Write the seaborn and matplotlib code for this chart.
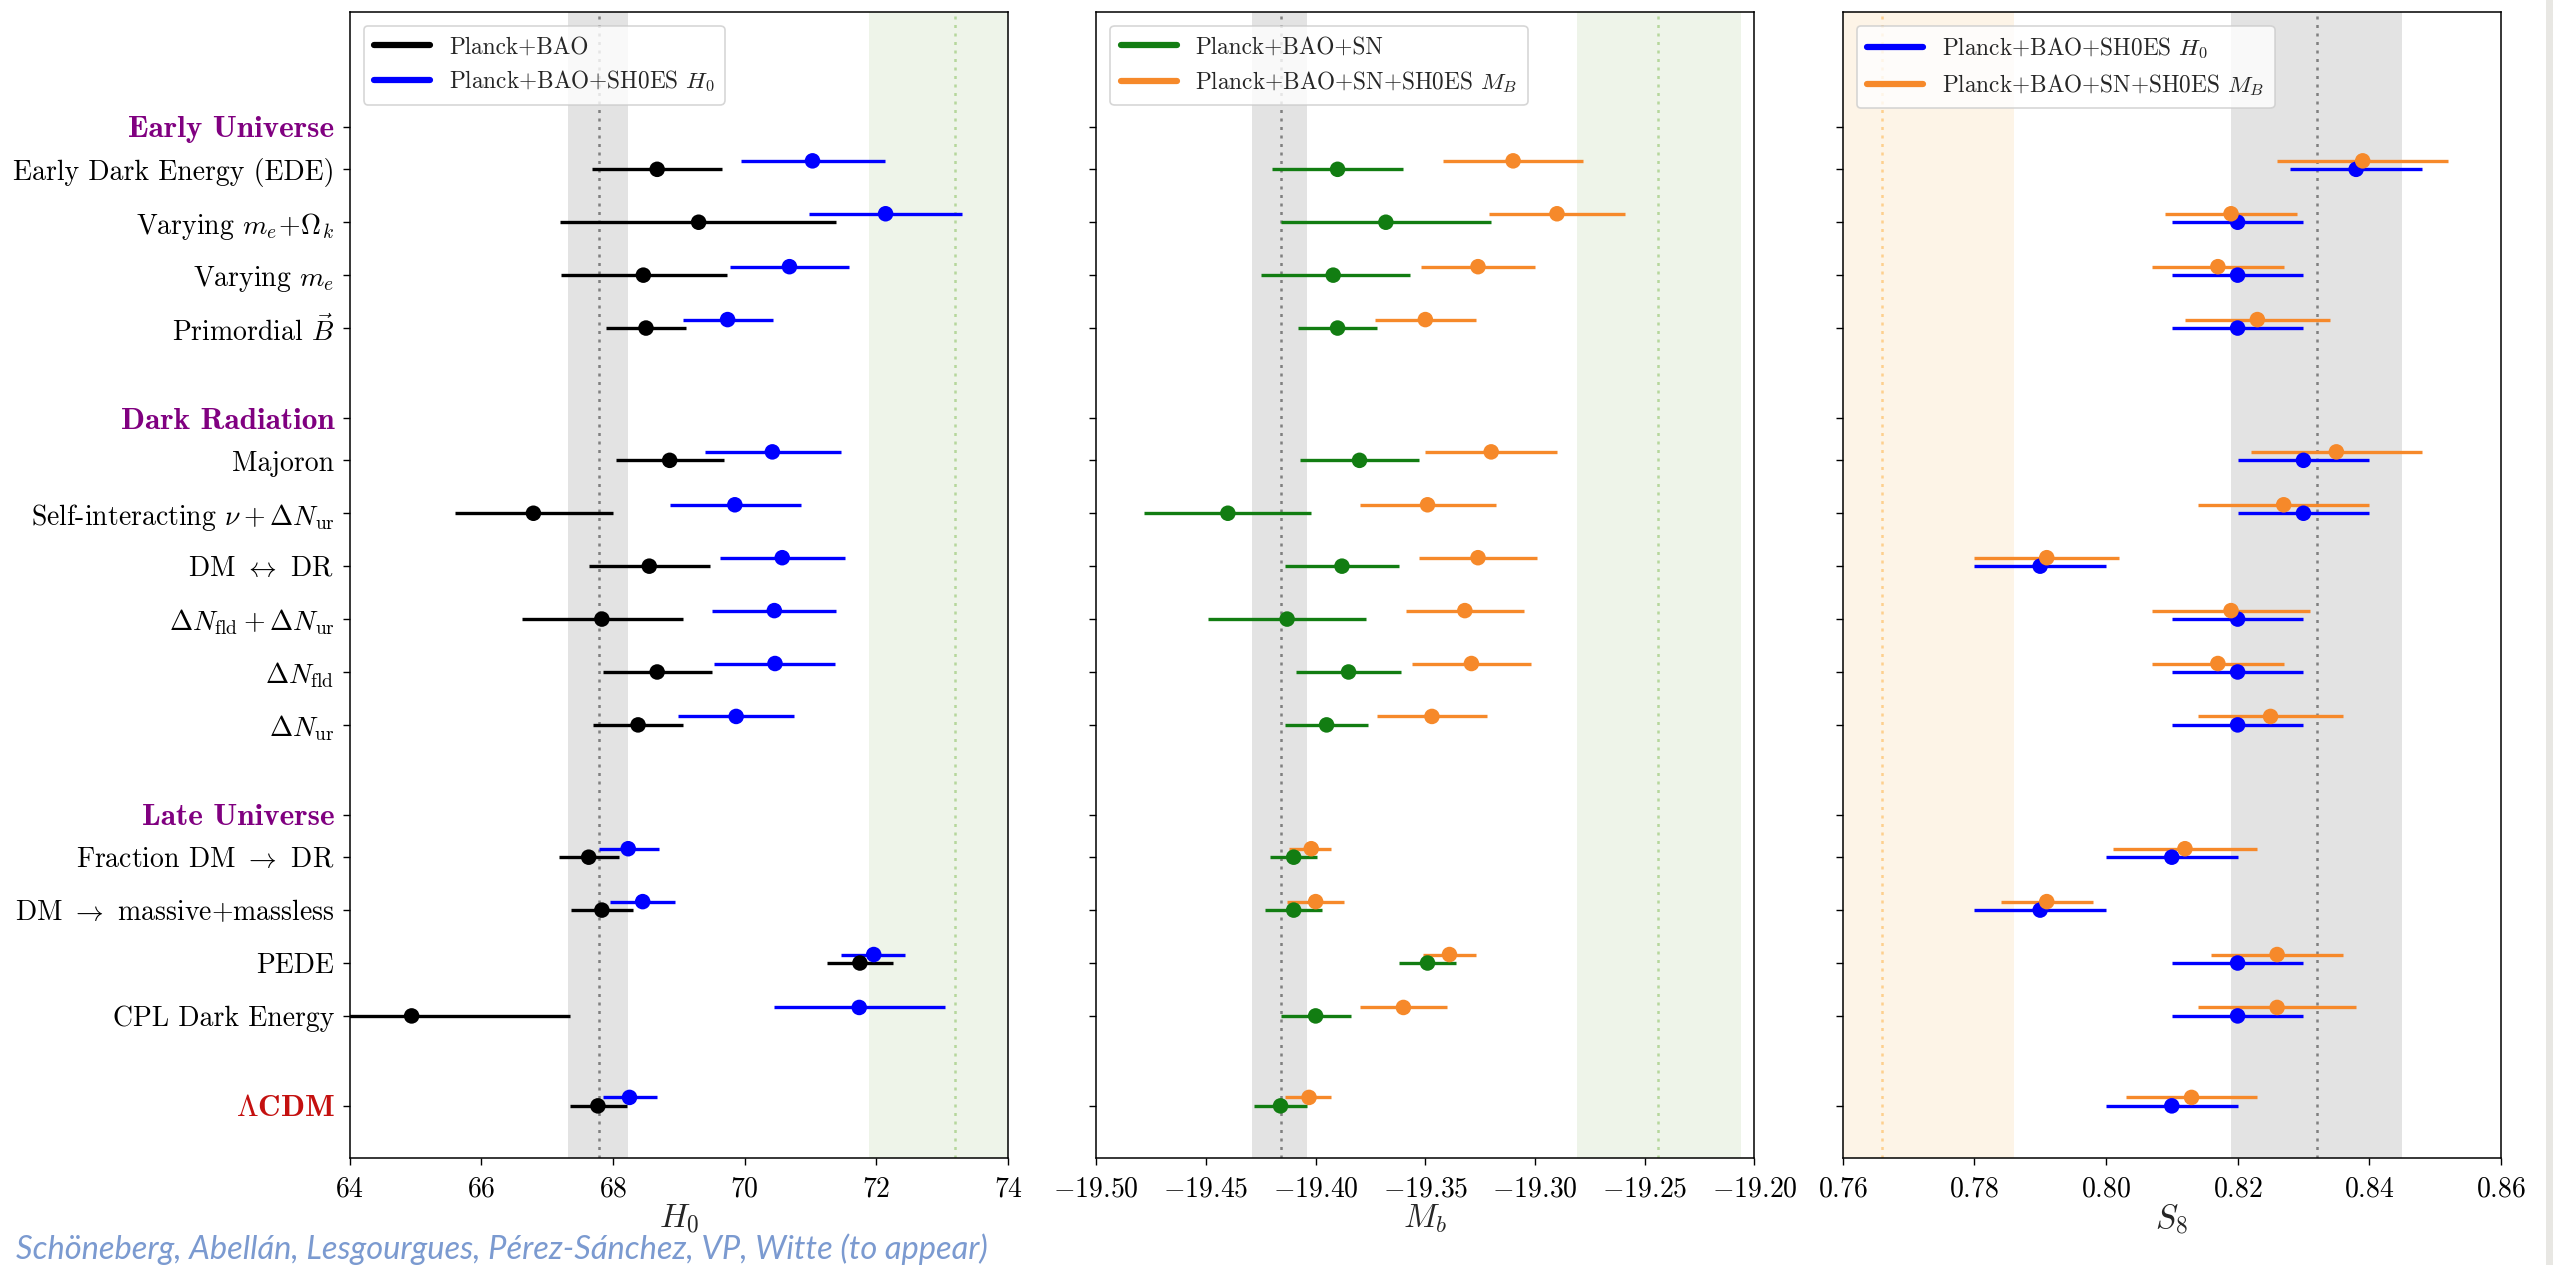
import numpy as np
import pandas as pd
import matplotlib
matplotlib.use("Agg")
import matplotlib.pyplot as plt
from matplotlib.lines import Line2D
from matplotlib.patches import Rectangle
import seaborn as sns

# ---------------------------------------------------------------- data
groups = ["Early Universe", "Dark Radiation", "Late Universe"]
group_sizes = [4, 6, 4]
models = [
    "Early Dark Energy (EDE)",
    r"Varying $m_e\!+\!\Omega_k$",
    r"Varying $m_e$",
    r"Primordial $\vec{B}$",
    "Majoron",
    r"Self-interacting $\nu+\Delta N_{\rm ur}$",
    r"DM $\leftrightarrow$ DR",
    r"$\Delta N_{\rm fld}+\Delta N_{\rm ur}$",
    r"$\Delta N_{\rm fld}$",
    r"$\Delta N_{\rm ur}$",
    r"Fraction DM $\rightarrow$ DR",
    r"DM $\rightarrow$ massive+massless",
    "PEDE",
    "CPL Dark Energy",
]
reference_model = r"$\Lambda$CDM"

# H0 : Planck+BAO
h0_pb = [68.67, 69.30, 68.46, 68.50, 68.86, 66.79, 68.55, 67.83, 68.67, 68.38,
         67.63, 67.83, 71.75, 64.94, 67.77]
h0_pb_lo = [67.68, 67.19, 67.21, 67.90, 68.04, 65.60, 67.64, 66.62, 67.84, 67.70,
            67.18, 67.36, 71.25, 62.54, 67.34]
h0_pb_hi = [69.66, 71.39, 69.73, 69.11, 69.69, 68.00, 69.47, 69.06, 69.50, 69.07,
            68.09, 68.31, 72.26, 67.34, 68.21]
# H0 : Planck+BAO+SH0ES H0
h0_sh = [71.03, 72.14, 70.68, 69.74, 70.42, 69.85, 70.57, 70.45, 70.46, 69.87,
         68.23, 68.45, 71.96, 71.74, 68.25]
h0_sh_lo = [69.94, 70.97, 69.78, 69.06, 69.40, 68.86, 69.63, 69.51, 69.54, 68.99,
            67.78, 67.96, 71.47, 70.45, 67.84]
h0_sh_hi = [72.13, 73.30, 71.59, 70.43, 71.46, 70.85, 71.53, 71.39, 71.37, 70.75,
            68.70, 68.94, 72.44, 73.04, 68.67]

# M_b : Planck+BAO+SN
mb_sn = [-19.390, -19.368, -19.392, -19.390, -19.380, -19.440, -19.388, -19.413,
         -19.385, -19.395, -19.410, -19.410, -19.349, -19.400, -19.416]
mb_sn_lo = [-19.420, -19.416, -19.425, -19.408, -19.407, -19.478, -19.414, -19.449,
            -19.409, -19.414, -19.421, -19.423, -19.362, -19.416, -19.428]
mb_sn_hi = [-19.360, -19.320, -19.357, -19.372, -19.353, -19.402, -19.362, -19.377,
            -19.361, -19.376, -19.3995, -19.397, -19.336, -19.384, -19.404]
# M_b : Planck+BAO+SN+SH0ES M_B
mb_sh = [-19.310, -19.290, -19.326, -19.350, -19.320, -19.349, -19.326, -19.332,
         -19.329, -19.347, -19.402, -19.400, -19.339, -19.360, -19.403]
mb_sh_lo = [-19.342, -19.321, -19.352, -19.373, -19.350, -19.380, -19.353, -19.359,
            -19.356, -19.372, -19.412, -19.413, -19.351, -19.380, -19.414]
mb_sh_hi = [-19.278, -19.259, -19.300, -19.327, -19.290, -19.318, -19.299, -19.305,
            -19.302, -19.322, -19.393, -19.387, -19.327, -19.340, -19.393]

# S8 : Planck+BAO+SH0ES H0
s8_h0 = [0.838, 0.820, 0.820, 0.820, 0.830, 0.830, 0.790, 0.820, 0.820, 0.820,
         0.810, 0.790, 0.820, 0.820, 0.810]
s8_h0_lo = [0.828, 0.810, 0.810, 0.810, 0.820, 0.820, 0.780, 0.810, 0.810, 0.810,
            0.800, 0.780, 0.810, 0.810, 0.800]
s8_h0_hi = [0.848, 0.830, 0.830, 0.830, 0.840, 0.840, 0.800, 0.830, 0.830, 0.830,
            0.820, 0.800, 0.830, 0.830, 0.820]
# S8 : Planck+BAO+SN+SH0ES M_B
s8_mb = [0.839, 0.819, 0.817, 0.823, 0.835, 0.827, 0.791, 0.819, 0.817, 0.825,
         0.812, 0.791, 0.826, 0.826, 0.813]
s8_mb_lo = [0.826, 0.809, 0.807, 0.812, 0.822, 0.814, 0.780, 0.807, 0.807, 0.814,
            0.801, 0.784, 0.816, 0.814, 0.803]
s8_mb_hi = [0.852, 0.829, 0.827, 0.834, 0.848, 0.840, 0.802, 0.831, 0.827, 0.836,
            0.823, 0.798, 0.836, 0.838, 0.823]

# reference measurements: (central, low, high)
h0_planck_band = (67.78, 67.32, 68.22)
h0_shoes_band = (73.20, 71.89, 74.51)
mb_planck_band = (-19.416, -19.429, -19.404)
mb_shoes_band = (-19.244, -19.281, -19.206)
s8_planck_band = (0.832, 0.819, 0.845)
s8_kids_band = (0.766, 0.746, 0.786)

h0_ticks = [64, 66, 68, 70, 72, 74]
mb_ticks = [-19.50, -19.45, -19.40, -19.35, -19.30, -19.25, -19.20]
s8_ticks = [0.76, 0.78, 0.80, 0.82, 0.84, 0.86]

# ---------------------------------------------------------------- style
sns.set_theme(style="ticks")
plt.rcParams.update({
    "font.family": ["cmr10", "DejaVu Serif"],
    "mathtext.fontset": "cm",
    "axes.formatter.use_mathtext": True,
    "axes.unicode_minus": True,
    "axes.edgecolor": "black",
    "axes.linewidth": 1.1,
    "xtick.color": "black",
    "ytick.color": "black",
    "xtick.major.size": 5,
    "ytick.major.size": 5,
    "xtick.major.width": 1.0,
    "ytick.major.width": 1.0,
    "xtick.direction": "out",
    "ytick.direction": "out",
})

BLACK = "black"
BLUE = "#0000ff"
GREEN = "#127d12"
ORANGE = "#f6892a"
PURPLE = "#800080"
RED = "#c4100f"

# vertical layout: groups separated by gaps, headers just above each group
y_models, y_headers = [], []
y = 0.0
for n in group_sizes:
    y_headers.append(y - 0.8)
    y_models += [y + k for k in range(n)]
    y += (n - 1) + 2.5
y_models.append(y_models[-1] + 1.7)
y_models = np.array(y_models)
shift = 0.16

tick_pos = list(y_headers) + list(y_models)
tick_lab = list(groups) + models + [reference_model]
tick_col = [PURPLE] * len(groups) + ["black"] * len(models) + [RED]
tick_size = [22.5] * len(groups) + [20] * len(models) + [22.5]
tick_bold = [True] * len(groups) + [False] * len(models) + [True]

fig, axes = plt.subplots(1, 3, figsize=(25.53, 12.65), dpi=100, sharey=True)
fig.subplots_adjust(left=0.137, right=0.9796, top=0.9908, bottom=0.0848, wspace=0.134)


def draw_band(ax, band, fill, dot):
    c, lo, hi = band
    ax.axvspan(lo, hi, color=fill, lw=0, zorder=0)
    ax.axvline(c, color=dot, ls=(0, (1.2, 2.2)), lw=1.8, zorder=1)


def draw_series(ax, centre, lo, hi, ypos, color):
    df = pd.DataFrame({"x": centre, "y": ypos})
    ax.hlines(ypos, lo, hi, colors=color, lw=2.4, capstyle="butt", zorder=3)
    sns.scatterplot(data=df, x="x", y="y", ax=ax, color=color, s=125,
                    edgecolor="none", linewidth=0, zorder=4, legend=False)


panels = [
    (axes[0], [(h0_pb, h0_pb_lo, h0_pb_hi, BLACK, 0.0),
               (h0_sh, h0_sh_lo, h0_sh_hi, BLUE, shift)],
     [(h0_planck_band, "#e3e3e3", "#808080"), (h0_shoes_band, "#eef4e9", "#b6d79c")],
     (64, 74), h0_ticks, "%d", r"$H_0$",
     ["Planck+BAO", r"Planck+BAO+SH0ES $H_0$"]),
    (axes[1], [(mb_sn, mb_sn_lo, mb_sn_hi, GREEN, 0.0),
               (mb_sh, mb_sh_lo, mb_sh_hi, ORANGE, shift)],
     [(mb_planck_band, "#e3e3e3", "#808080"), (mb_shoes_band, "#eef4e9", "#b6d79c")],
     (-19.50, -19.20), mb_ticks, "%.2f", r"$M_b$",
     ["Planck+BAO+SN", r"Planck+BAO+SN+SH0ES $M_B$"]),
    (axes[2], [(s8_h0, s8_h0_lo, s8_h0_hi, BLUE, 0.0),
               (s8_mb, s8_mb_lo, s8_mb_hi, ORANGE, shift)],
     [(s8_planck_band, "#e3e3e3", "#808080"), (s8_kids_band, "#fdf4e7", "#fdd08e")],
     (0.76, 0.86), s8_ticks, "%.2f", r"$S_8$",
     [r"Planck+BAO+SH0ES $H_0$", r"Planck+BAO+SN+SH0ES $M_B$"]),
]

for ax, series, bands, xlim, xticks, fmt, xlabel, leg_labels in panels:
    for band, fill, dot in bands:
        draw_band(ax, band, fill, dot)
    handles = []
    for centre, lo, hi, color, off in series:
        draw_series(ax, centre, lo, hi, y_models - off, color)
        handles.append(Line2D([], [], color=color, lw=4.5))
    ax.set_xlim(*xlim)
    ax.set_xticks(xticks)
    ax.set_xticklabels([r"$%s$" % (fmt % t) for t in xticks])
    ax.tick_params(axis="x", labelsize=20, pad=8)
    ax.set_xlabel(xlabel, fontsize=24, labelpad=0)
    ax.set_ylabel("")
    for side in ["top", "right", "left", "bottom"]:
        ax.spines[side].set_visible(True)
        ax.spines[side].set_color("black")
    leg = ax.legend(handles, leg_labels, loc="upper left", fontsize=16.8,
                    frameon=True, fancybox=True, framealpha=0.8, edgecolor="#cccccc",
                    handlelength=2.4, borderpad=0.45, labelspacing=0.45,
                    borderaxespad=0.6)
    leg.get_frame().set_linewidth(1.2)

ax0 = axes[0]
ax0.set_ylim(18.68, -2.98)
ax0.set_yticks(tick_pos)
ax0.set_yticklabels(tick_lab)
ax0.tick_params(axis="y", labelsize=20, pad=6)
for lab, col, size, bold in zip(ax0.get_yticklabels(), tick_col, tick_size, tick_bold):
    lab.set_color(col)
    lab.set_fontsize(size)
    if bold:
        lab.set_fontfamily(["cmb10", "cmr10"])

fig.text(16 / 2553, 1 - 1259 / 1265,
         "Schöneberg, Abellán, Lesgourgues, Pérez-Sánchez, VP, Witte (to appear)",
         family=["Lato", "DejaVu Sans"], style="italic", fontsize=23.5,
         color="#7b9ad0", ha="left", va="baseline")

fig.patches.append(Rectangle((2546 / 2553, 0), 7 / 2553, 1, transform=fig.transFigure,
                             color="#e8e7e3", lw=0, zorder=-1))

fig.savefig("out.png", dpi=100)
